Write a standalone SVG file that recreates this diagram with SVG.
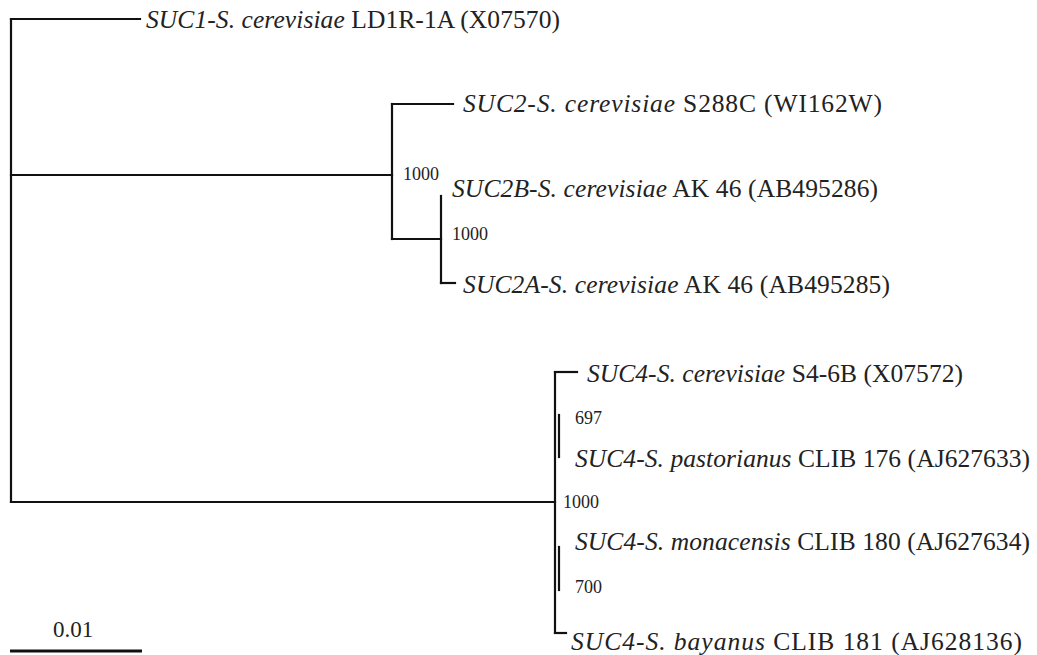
<svg xmlns="http://www.w3.org/2000/svg" width="1037" height="655" viewBox="0 0 1037 655">
<style>
.br{stroke:#111;stroke-width:2.2;fill:none;stroke-linecap:square}
.lab{font-family:"Liberation Serif","Times New Roman",serif;font-size:25.5px;fill:#222}
.it{font-style:italic}
.bs{font-family:"Liberation Serif","Times New Roman",serif;font-size:18px;fill:#222}
</style>
<rect width="1037" height="655" fill="#fff"/>
<g id="connectors" class="br">
<path d="M11,19 V502"/>
<path d="M11,19 H140"/>
<path d="M11,175 H392"/>
<path d="M11,502 H555"/>
<path d="M392,104 V239"/>
<path d="M392,104 H453"/>
<path d="M392,239 H441"/>
<path d="M441,196 V283"/>
<path d="M441,283 H455"/>
<path d="M555,372 V633"/>
<path d="M555,372 H577"/>
<path d="M555,633 H566"/>
<path d="M559,415 V457"/>
<path d="M559,547 V590"/>
</g>
<g id="suc1"><text class="lab" x="146" y="28" textLength="414"><tspan class="it">SUC1-S. cerevisiae</tspan> LD1R-1A (X07570)</text></g>
<g id="suc2"><text class="lab" x="463" y="112" textLength="419"><tspan class="it">SUC2-S. cerevisiae</tspan> S288C (WI162W)</text></g>
<g id="suc2b"><text class="lab" x="452" y="197" textLength="426"><tspan class="it">SUC2B-S. cerevisiae</tspan> AK 46 (AB495286)</text></g>
<g id="suc2a"><text class="lab" x="463" y="293" textLength="427"><tspan class="it">SUC2A-S. cerevisiae</tspan> AK 46 (AB495285)</text></g>
<g id="suc4c"><text class="lab" x="587" y="382" textLength="376"><tspan class="it">SUC4-S. cerevisiae</tspan> S4-6B (X07572)</text></g>
<g id="suc4p"><text class="lab" x="575" y="467" textLength="455"><tspan class="it">SUC4-S. pastorianus</tspan> CLIB 176 (AJ627633)</text></g>
<g id="suc4m"><text class="lab" x="575" y="550" textLength="455"><tspan class="it">SUC4-S. monacensis</tspan> CLIB 180 (AJ627634)</text></g>
<g id="suc4b"><text class="lab" x="571" y="650" textLength="451"><tspan class="it">SUC4-S. bayanus</tspan> CLIB 181 (AJ628136)</text></g>
<g id="bootstrap">
<text class="bs" x="403" y="180">1000</text>
<text class="bs" x="452" y="240">1000</text>
<text class="bs" x="575" y="424">697</text>
<text class="bs" x="563" y="508">1000</text>
<text class="bs" x="575" y="593">700</text>
</g>
<g id="scale">
<path d="M10,651 H142" stroke="#111" stroke-width="3"/>
<text x="53" y="637" font-family="Liberation Serif, serif" font-size="23" fill="#222">0.01</text>
</g>
</svg>
